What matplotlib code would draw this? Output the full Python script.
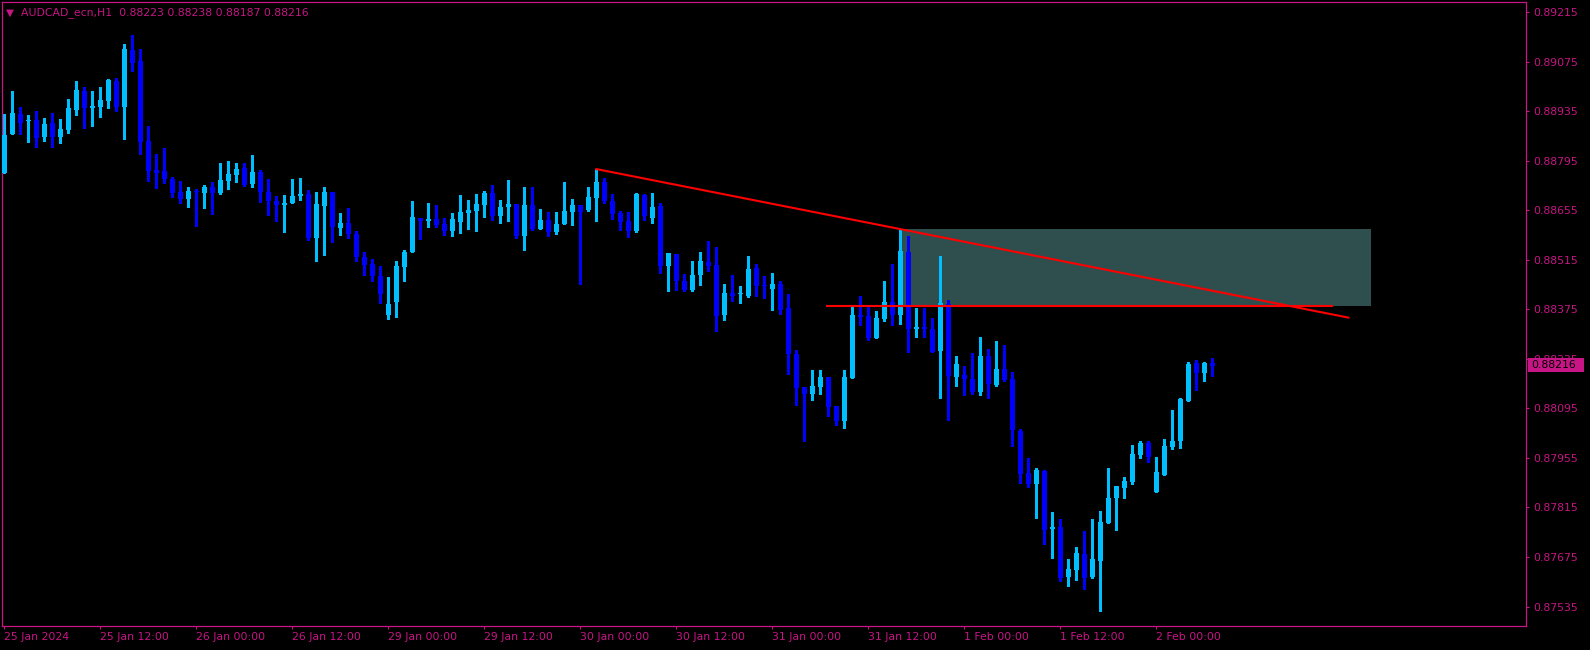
import matplotlib
matplotlib.use("Agg")
import matplotlib.pyplot as plt
from matplotlib.patches import Rectangle
import numpy as np

# H1 bars, AUDCAD_ecn, prices in points (1e-5)
opens = [88762, 88872, 88928, 88907, 88911, 88863, 88902, 88863, 88883, 88940,
         88993, 88945, 88948, 88965, 89021, 88948, 89109, 89078, 88851, 88769,
         88766, 88743, 88707, 88686, 88710, 88705, 88721, 88705, 88739, 88756,
         88775, 88731, 88764, 88707, 88682, 88671, 88677, 88697, 88701, 88578,
         88668, 88707, 88606, 88619, 88588, 88523, 88503, 88470, 88360, 88397,
         88496, 88538, 88634, 88626, 88630, 88617, 88597, 88623, 88648, 88654,
         88671, 88704, 88640, 88665, 88673, 88584, 88670, 88603, 88628, 88595,
         88617, 88651, 88670, 88656, 88691, 88735, 88682, 88648, 88625, 88598,
         88699, 88634, 88668, 88499, 88532, 88455, 88431, 88473, 88510, 88501,
         88360, 88421, 88418, 88414, 88493, 88443, 88434, 88447, 88379, 88250,
         88155, 88137, 88157, 88184, 88102, 88060, 88182, 88358, 88356, 88295,
         88348, 88396, 88359, 88537, 88321, 88325, 88320, 88258, 88390, 88185,
         88190, 88178, 88142, 88243, 88162, 88207, 88178, 88031, 87913, 87882,
         87918, 87755, 87760, 87619, 87639, 87684, 87618, 87665, 87772, 87843,
         87871, 87888, 87964, 87997, 87860, 87908, 87987, 88004, 88117, 88224,
         88196, 88223]
highs = [88928, 88993, 88947, 88925, 88936, 88916, 88930, 88913, 88970, 89021,
         89004, 88993, 89004, 89027, 89029, 89126, 89151, 89111, 88894, 88814,
         88831, 88749, 88737, 88721, 88715, 88727, 88735, 88789, 88795, 88789,
         88789, 88812, 88769, 88743, 88696, 88699, 88744, 88747, 88713, 88707,
         88721, 88707, 88648, 88662, 88597, 88537, 88518, 88498, 88467, 88512,
         88543, 88682, 88634, 88676, 88670, 88634, 88648, 88699, 88685, 88701,
         88710, 88727, 88685, 88741, 88673, 88721, 88721, 88659, 88651, 88651,
         88735, 88687, 88670, 88721, 88772, 88747, 88701, 88653, 88651, 88704,
         88701, 88704, 88676, 88535, 88532, 88476, 88513, 88538, 88569, 88552,
         88448, 88473, 88442, 88527, 88504, 88470, 88478, 88455, 88419, 88260,
         88155, 88204, 88204, 88184, 88102, 88204, 88382, 88413, 88382, 88371,
         88455, 88503, 88600, 88583, 88379, 88379, 88351, 88526, 88402, 88243,
         88215, 88252, 88297, 88263, 88286, 88274, 88198, 88037, 87955, 87927,
         87921, 87802, 87782, 87669, 87703, 87749, 87782, 87805, 87927, 87876,
         87901, 87992, 88003, 88003, 87958, 88009, 88091, 88125, 88226, 88232,
         88226, 88238]
lows = [88762, 88872, 88872, 88849, 88835, 88852, 88835, 88846, 88875, 88926,
        88889, 88895, 88920, 88945, 88937, 88858, 89050, 88815, 88739, 88719,
        88733, 88694, 88677, 88665, 88612, 88663, 88646, 88702, 88716, 88736,
        88725, 88722, 88680, 88642, 88626, 88595, 88677, 88685, 88572, 88513,
        88530, 88567, 88586, 88578, 88513, 88472, 88456, 88394, 88349, 88354,
        88456, 88538, 88574, 88609, 88609, 88586, 88584, 88592, 88603, 88598,
        88637, 88629, 88620, 88626, 88578, 88544, 88601, 88603, 88584, 88589,
        88617, 88615, 88448, 88653, 88626, 88677, 88631, 88601, 88581, 88595,
        88629, 88620, 88479, 88428, 88431, 88428, 88428, 88445, 88484, 88315,
        88346, 88400, 88394, 88411, 88414, 88408, 88374, 88363, 88193, 88105,
        88004, 88120, 88137, 88074, 88049, 88041, 88182, 88332, 88289, 88295,
        88343, 88332, 88335, 88256, 88298, 88298, 88256, 88125, 88063, 88159,
        88134, 88137, 88134, 88125, 88159, 88174, 87990, 87885, 87874, 87786,
        87713, 87673, 87608, 87594, 87611, 87585, 87616, 87523, 87772, 87752,
        87843, 87882, 87956, 87944, 87860, 87908, 87981, 87984, 88117, 88148,
        88174, 88187]
closes = [88868, 88930, 88902, 88908, 88861, 88899, 88863, 88885, 88945, 88995,
          88945, 88950, 88967, 89024, 88948, 89111, 89073, 88849, 88767, 88761,
          88745, 88705, 88686, 88710, 88708, 88721, 88705, 88741, 88758, 88772,
          88727, 88764, 88708, 88683, 88670, 88676, 88696, 88701, 88578, 88673,
          88707, 88609, 88619, 88589, 88524, 88501, 88470, 88419, 88390, 88498,
          88537, 88636, 88625, 88631, 88614, 88597, 88631, 88651, 88656, 88673,
          88704, 88640, 88665, 88673, 88584, 88670, 88603, 88628, 88595, 88617,
          88653, 88670, 88651, 88693, 88735, 88683, 88646, 88623, 88598, 88701,
          88640, 88665, 88499, 88535, 88456, 88431, 88472, 88513, 88499, 88357,
          88421, 88414, 88419, 88489, 88442, 88442, 88447, 88374, 88250, 88154,
          88137, 88158, 88184, 88100, 88060, 88184, 88359, 88354, 88295, 88351,
          88396, 88359, 88540, 88321, 88325, 88321, 88256, 88393, 88188, 88221,
          88179, 88142, 88243, 88165, 88207, 88176, 88035, 87911, 87882, 87921,
          87752, 87761, 87616, 87641, 87686, 87616, 87669, 87774, 87842, 87876,
          87890, 87966, 87997, 87959, 87915, 87989, 88003, 88122, 88221, 88196,
          88224, 88216]

time_pos = [0, 12, 24, 36, 48, 60, 72, 84, 96, 108, 120, 132, 144]
time_labels = ["25 Jan 2024", "25 Jan 12:00", "26 Jan 00:00", "26 Jan 12:00",
               "29 Jan 00:00", "29 Jan 12:00", "30 Jan 00:00", "30 Jan 12:00",
               "31 Jan 00:00", "31 Jan 12:00", "1 Feb 00:00", "1 Feb 12:00",
               "2 Feb 00:00"]
price_ticks = [0.87535, 0.87675, 0.87815, 0.87955, 0.88095, 0.88235, 0.88375,
               0.88515, 0.88655, 0.88795, 0.88935, 0.89075, 0.89215]

# objects drawn on the chart (bar index, price)
trend_x = [74, 168]
trend_y = [0.88772, 0.88352]
hline_x = [102.8, 165.9]
hline_y = 0.88385
zone_x = [111.9, 170.8]
zone_y = [0.88385, 0.88602]
last_price = 0.88216

FG = "#C71585"
BULL = "#00BFFF"
BEAR = "#0000FF"

o = np.array(opens) / 1e5
h = np.array(highs) / 1e5
l = np.array(lows) / 1e5
c = np.array(closes) / 1e5
idx = np.arange(len(o))
up = c >= o
cols = np.where(up, BULL, BEAR)

fig = plt.figure(figsize=(15.9, 6.5), dpi=100, facecolor="black")
ax = fig.add_axes([2 / 1590, 24 / 650, 1524 / 1590, 624.5 / 650])
ax.set_facecolor("black")

ax.add_patch(Rectangle((zone_x[0], zone_y[0]), zone_x[1] - zone_x[0],
                       zone_y[1] - zone_y[0], facecolor="#2F4F4F",
                       edgecolor="none", zorder=1))

ax.vlines(idx, l, h, colors=cols, linewidth=1.0, zorder=2, antialiased=False)
body_lo = np.minimum(o, c)
body_h = np.maximum(np.abs(c - o), 0.00003)
ax.bar(idx, body_h, bottom=body_lo, width=0.66, color=cols, zorder=3,
       antialiased=False, linewidth=0)

ax.plot(trend_x, trend_y, color="red", linewidth=1.5, zorder=4)
ax.plot(hline_x, [hline_y, hline_y], color="red", linewidth=1.5, zorder=4)

ax.set_xlim(-0.2875, 190.21)
ax.set_ylim(0.874799, 0.892458)

for s in ax.spines.values():
    s.set_color(FG)
    s.set_linewidth(0.9)

ax.yaxis.tick_right()
ax.set_yticks(price_ticks)
ax.set_yticklabels([f"{p:.5f}" for p in price_ticks])
ax.set_xticks(time_pos)
ax.set_xticklabels(time_labels, ha="left")
ax.tick_params(axis="y", colors=FG, labelcolor=FG, labelsize=7.8,
               length=2.5, width=0.8, pad=3)
ax.tick_params(axis="x", colors=FG, labelcolor=FG, labelsize=7.8,
               length=2.5, width=0.8, pad=1.5)
for lab in ax.get_xticklabels():
    lab.set_horizontalalignment("left")

# header
fig.text(6 / 1590, 1 - 12.5 / 650, "\u25BC", color=FG, fontsize=7.5,
         va="center", ha="left")
fig.text(21 / 1590, 1 - 12.5 / 650,
         "AUDCAD_ecn,H1  0.88223 0.88238 0.88187 0.88216",
         color=FG, fontsize=7.8, va="center", ha="left")

# current price label
fig.add_artist(Rectangle((1528 / 1590, 1 - 372 / 650), 56 / 1590, 14.5 / 650,
                         transform=fig.transFigure, facecolor=FG,
                         edgecolor="none", zorder=5))
fig.text(1531 / 1590, 1 - 365 / 650, f"{last_price:.5f}", color="black",
         fontsize=7.8, va="center", ha="left", zorder=6)

fig.savefig("out.png", dpi=100, facecolor="black")
